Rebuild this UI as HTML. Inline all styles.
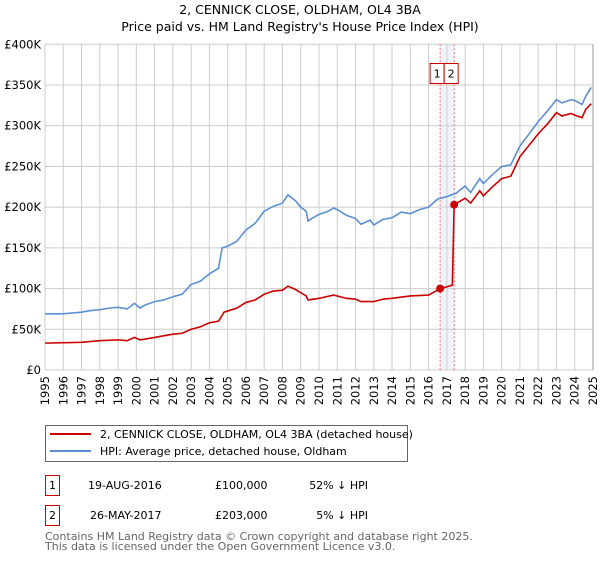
<!DOCTYPE html>
<html><head><meta charset="utf-8"><style>
body{margin:0;background:#fff;font-family:"Liberation Sans","DejaVu Sans",sans-serif;}
svg text{font-family:"DejaVu Sans","Liberation Sans",sans-serif;}
</style></head><body>
<svg id="c" width="600" height="560" xmlns="http://www.w3.org/2000/svg">
<text x="300" y="14" text-anchor="middle" font-size="12.5">2, CENNICK CLOSE, OLDHAM, OL4 3BA</text>
<text x="300" y="31" text-anchor="middle" font-size="12.5">Price paid vs. HM Land Registry's House Price Index (HPI)</text>
<g id="grid"></g><g id="marks"></g><g id="axes"></g>
<g>
<rect x="45.5" y="425.5" width="362" height="36" fill="#fff" stroke="#666"/>
<line x1="50" y1="434" x2="91" y2="434" stroke="#cc0000" stroke-width="2"/>
<text x="100" y="438" font-size="11">2, CENNICK CLOSE, OLDHAM, OL4 3BA (detached house)</text>
<line x1="50" y1="451" x2="91" y2="451" stroke="#5b8fd4" stroke-width="2"/>
<text x="100" y="455" font-size="11">HPI: Average price, detached house, Oldham</text>
</g>
<g font-size="11">
<rect x="45.5" y="475.5" width="14" height="20" fill="none" stroke="#cc0000"/>
<text x="52.5" y="489" text-anchor="middle">1</text>
<text x="88" y="489">19-AUG-2016</text>
<text x="215" y="489">£100,000</text>
<text x="368" y="489" text-anchor="end">52% ↓ HPI</text>
<rect x="45.5" y="505.5" width="14" height="20" fill="none" stroke="#cc0000"/>
<text x="52.5" y="519" text-anchor="middle">2</text>
<text x="90" y="519">26-MAY-2017</text>
<text x="215" y="519">£203,000</text>
<text x="368" y="519" text-anchor="end">5% ↓ HPI</text>
</g>
<text x="45" y="540" font-size="11" fill="#666">Contains HM Land Registry data © Crown copyright and database right 2025.</text>
<text x="45" y="550" font-size="11" fill="#666">This data is licensed under the Open Government Licence v3.0.</text>
</svg>
<script>
const yTicks=[0,50,100,150,200,250,300,350,400];
const yTickLabels=["£0","£50K","£100K","£150K","£200K","£250K","£300K","£350K","£400K"];
const years=[1995,1996,1997,1998,1999,2000,2001,2002,2003,2004,2005,2006,2007,2008,2009,2010,2011,2012,2013,2014,2015,2016,2017,2018,2019,2020,2021,2022,2023,2024,2025];
const hpiT=[1995,1995.5,1996,1996.5,1997,1997.5,1998,1998.5,1999,1999.5,1999.9,2000.2,2000.5,2001,2001.5,2002,2002.5,2003,2003.5,2004,2004.5,2004.7,2005,2005.5,2006,2006.5,2007,2007.5,2008,2008.3,2008.7,2009,2009.3,2009.4,2009.6,2010,2010.5,2010.8,2011,2011.5,2012,2012.3,2012.8,2013,2013.5,2014,2014.5,2015,2015.5,2016,2016.5,2017,2017.5,2018,2018.3,2018.8,2019,2019.5,2020,2020.5,2021,2021.5,2022,2022.5,2023,2023.3,2023.8,2024,2024.4,2024.6,2024.9];
const hpiV=[69,69,69,70,71,73,74,76,77,75,82,76,80,84,86,90,93,105,109,118,125,150,152,158,172,180,195,201,205,215,208,200,195,183,186,191,195,199,197,190,186,179,184,178,185,187,194,192,197,200,210,213,217,226,218,235,229,240,250,252,275,290,305,318,332,328,332,331,326,336,347];
const priceT=[1995,1997,1998,1999,1999.5,1999.9,2000.2,2001,2002,2002.5,2003,2003.5,2004,2004.5,2004.8,2005.5,2006,2006.5,2007,2007.5,2008,2008.3,2008.7,2009,2009.3,2009.4,2010,2010.8,2011.5,2012,2012.3,2013,2013.5,2014,2015,2016,2016.63,2017.3,2017.4,2018,2018.3,2018.8,2019,2019.5,2020,2020.5,2021,2021.5,2022,2022.5,2023,2023.3,2023.8,2024,2024.4,2024.6,2024.9];
const priceV=[33,34,36,37,36,40,37,40,44,45,50,53,58,60,71,76,83,86,93,97,98,103,99,95,91,86,88,92,88,87,84,84,87,88,91,92,100,104,203,211,205,220,214,225,235,238,262,276,290,302,316,312,315,313,310,320,327];
const saleT=[2016.63,2017.4];
const saleV=[100,203];
const saleLabels=["1","2"];

const NS="http://www.w3.org/2000/svg";
const X0=45,X1=593,Y0=370,Y1=44.3;
const xs=t=>X0+(t-1995)/30*(X1-X0);
const ys=v=>Y0-v/400*(Y0-Y1);
function mk(tag,attrs,parent,txt){const e=document.createElementNS(NS,tag);for(const k in attrs)e.setAttribute(k,attrs[k]);if(txt!=null)e.textContent=txt;parent.appendChild(e);return e;}
const grid=document.getElementById('grid'),marks=document.getElementById('marks'),axes=document.getElementById('axes');
let band=mk('rect',{x:xs(saleT[0]),y:Y1,width:xs(saleT[1])-xs(saleT[0]),height:Y0-Y1,fill:'#e8eefa',opacity:0.7},grid);


yTicks.forEach((v,i)=>{
 let l=mk('line',{x1:X0,x2:X1,y1:ys(v),y2:ys(v),stroke:'#ccc'},grid);
 
 
 let t=mk('text',{x:X0-4,y:ys(v)+4,'text-anchor':'end','font-size':11.5},axes,yTickLabels[i]);
 
 
});
years.forEach(y=>{
 let l=mk('line',{x1:xs(y),x2:xs(y),y1:Y1,y2:Y0,stroke:'#ccc'},grid);
 
 
 let t=mk('text',{x:0,y:0,'text-anchor':'end','font-size':11.5,transform:`translate(${xs(y)+4},${Y0+6}) rotate(-90)`},axes,String(y));
 
 
});
saleT.forEach((t,i)=>{
 let l=mk('line',{x1:xs(t),x2:xs(t),y1:Y1,y2:Y0,stroke:'#ff6666','stroke-dasharray':'2,2'},grid);
 
 
 const bx=xs(t)-10;
 let r=mk('rect',{x:bx,y:63.5,width:14,height:20,fill:'#fff',stroke:'#cc0000'},axes);
 
 
 let tx=mk('text',{x:bx+7,y:77.5,'text-anchor':'middle','font-size':11},axes,saleLabels[i]);
 
 
});
let hp=mk('polyline',{points:hpiT.map((t,i)=>xs(t)+','+ys(hpiV[i])).join(' '),fill:'none',stroke:'#5b8fd4','stroke-width':1.6},marks);


let pp=mk('polyline',{points:priceT.map((t,i)=>xs(t)+','+ys(priceV[i])).join(' '),fill:'none',stroke:'#cc0000','stroke-width':1.6},marks);


saleT.forEach((t,i)=>{
 let c=mk('circle',{cx:xs(t),cy:ys(saleV[i]),r:4,fill:'#cc0000'},marks);
 
 
});
let ax=mk('line',{x1:X1,x2:X1,y1:Y1,y2:Y0,stroke:'#999'},axes);


</script>
</body></html>
